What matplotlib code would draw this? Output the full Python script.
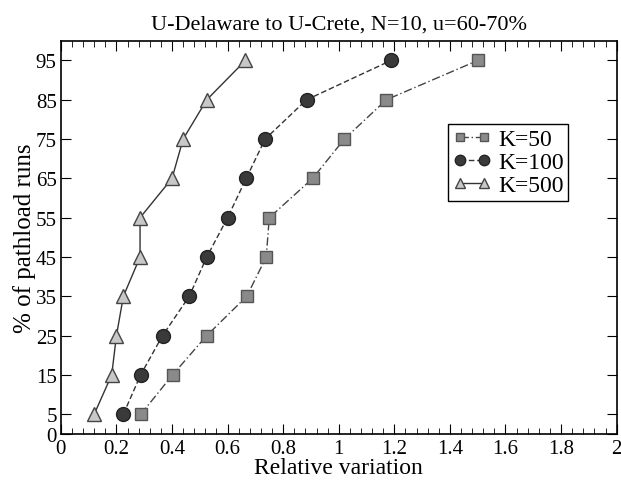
import numpy as np
import matplotlib.pyplot as plt
from matplotlib.ticker import MultipleLocator

plt.rcParams.update({
    "font.family": ["Liberation Serif", "DejaVu Serif"],
    "font.size": 13,
    "xtick.direction": "in",
    "ytick.direction": "in",
})

# percentiles (% of pathload runs)
pct = [5, 15, 25, 35, 45, 55, 65, 75, 85, 95]
# relative variation for each K
k50 = [0.288, 0.402, 0.525, 0.669, 0.739, 0.75, 0.906, 1.02, 1.171, 1.50]
k100 = [0.225, 0.287, 0.366, 0.462, 0.525, 0.60, 0.667, 0.735, 0.884, 1.188]
k500 = [0.12, 0.183, 0.20, 0.225, 0.285, 0.285, 0.40, 0.44, 0.525, 0.664]

xticks = [0, 0.2, 0.4, 0.6, 0.8, 1.0, 1.2, 1.4, 1.6, 1.8, 2.0]
xticklabels = ['0', '0.2', '0.4', '0.6', '0.8', '1', '1.2', '1.4', '1.6', '1.8', '2']

fig = plt.figure(figsize=(6.21, 4.81), dpi=100)
ax = fig.add_axes([0.098, 0.096, 0.895, 0.817])

ax.plot(k50, pct, color='#444444', linestyle=(0, (6, 2, 1, 2)), linewidth=1,
        marker='s', markersize=8, markerfacecolor='#8a8a8a', markeredgecolor='#555555',
        label='K=50')
ax.plot(k100, pct, color='#333333', linestyle=(0, (4, 2)), linewidth=1,
        marker='o', markersize=10, markerfacecolor='#3a3a3a', markeredgecolor='#222222',
        label='K=100')
ax.plot(k500, pct, color='#333333', linestyle='-', linewidth=1,
        marker='^', markersize=10, markerfacecolor='#c8c8c8', markeredgecolor='#444444',
        label='K=500')

ax.set_xlim(0, 2)
ax.set_ylim(0, 100)
ax.set_xticks(xticks)
ax.set_xticklabels(xticklabels)
ax.xaxis.set_minor_locator(MultipleLocator(0.04))
ax.set_yticks([0] + pct)
ax.tick_params(which='both', top=True, right=True, labelsize=15)
ax.tick_params(which='major', length=7)
ax.tick_params(which='minor', length=4)
ax.tick_params(axis='x', pad=4)
ax.tick_params(axis='y', pad=3)

ax.set_xlabel('Relative variation', fontsize=17, labelpad=-1)
ax.set_ylabel('% of pathload runs', fontsize=18, labelpad=0)
ax.set_title('U-Delaware to U-Crete, N=10, u=60-70%', fontsize=16, pad=9)

leg = ax.legend(loc='upper left', bbox_to_anchor=(0.676, 0.818), fontsize=17,
                frameon=True, fancybox=False, edgecolor='black', framealpha=1,
                numpoints=2, markerscale=0.75,
                handlelength=1.6, handletextpad=0.3, borderpad=0.2, labelspacing=0.05)
leg.get_frame().set_linewidth(1)

for s in ax.spines.values():
    s.set_linewidth(1.2)

plt.savefig('out.png', dpi=100)
